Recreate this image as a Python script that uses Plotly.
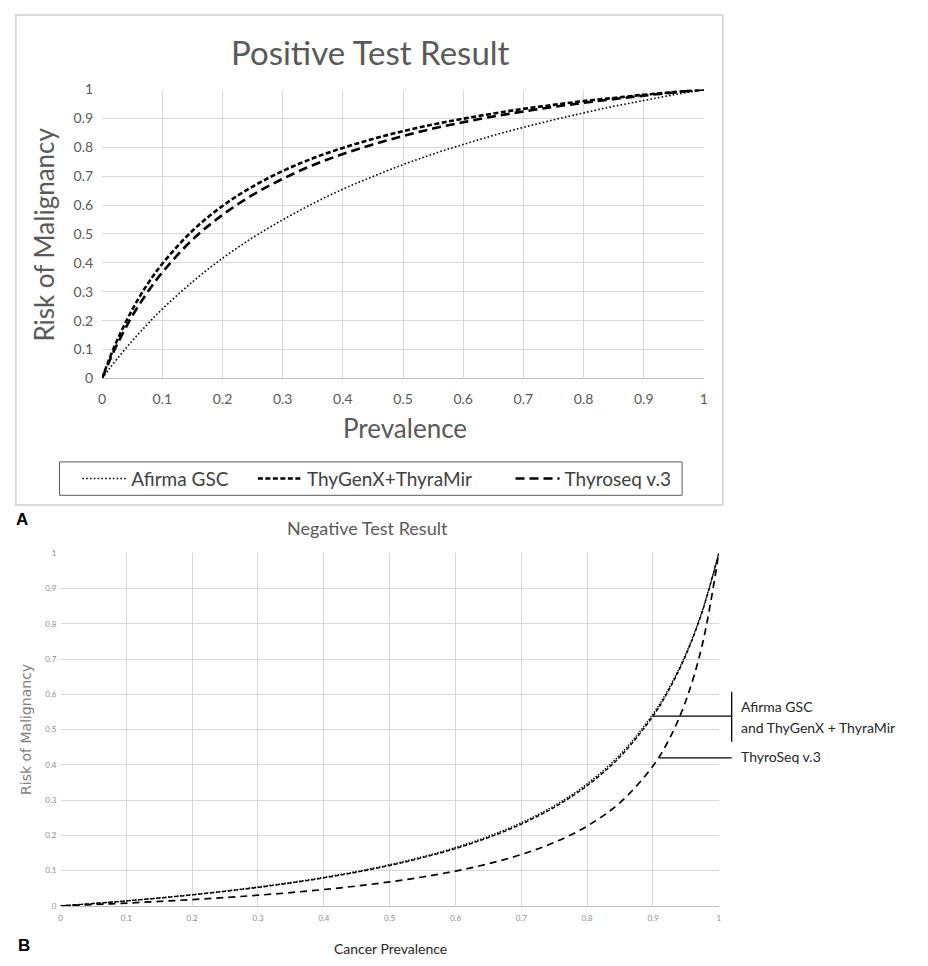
import plotly.graph_objects as go

W, H = 928, 966

# ---------- data ----------
pos_prev = [0, 0.01, 0.025, 0.05, 0.075, 0.1, 0.15, 0.2, 0.25, 0.3, 0.35, 0.4, 0.45,
            0.5, 0.55, 0.6, 0.65, 0.7, 0.75, 0.8, 0.85, 0.9, 0.95, 1]
pos_afirma = [0, 0.028, 0.068, 0.130, 0.187, 0.240, 0.334, 0.416, 0.487, 0.549, 0.605, 0.655,
              0.699, 0.740, 0.777, 0.810, 0.841, 0.869, 0.895, 0.919, 0.942, 0.962, 0.982, 1]
pos_thygenx = [0, 0.057, 0.132, 0.238, 0.325, 0.397, 0.511, 0.597, 0.664, 0.718, 0.762, 0.798,
               0.829, 0.856, 0.879, 0.899, 0.917, 0.933, 0.947, 0.960, 0.971, 0.982, 0.991, 1]
pos_thyroseq = [0, 0.050, 0.118, 0.216, 0.297, 0.367, 0.480, 0.566, 0.635, 0.691, 0.738, 0.777,
                0.810, 0.839, 0.865, 0.887, 0.907, 0.924, 0.940, 0.954, 0.967, 0.979, 0.990, 1]

neg_prev = [0, 0.05, 0.1, 0.15, 0.2, 0.25, 0.3, 0.35, 0.4, 0.45, 0.5, 0.55, 0.6, 0.65,
            0.7, 0.75, 0.8, 0.85, 0.9, 0.925, 0.95, 0.975, 1]
neg_afirma = [0, 0.0069, 0.0145, 0.0228, 0.0320, 0.0423, 0.0537, 0.0665, 0.0811, 0.0977, 0.1169,
              0.1392, 0.1656, 0.1973, 0.236, 0.284, 0.346, 0.429, 0.544, 0.620, 0.715, 0.838, 1]
neg_thygenx = [0, 0.0068, 0.0142, 0.0223, 0.0313, 0.0414, 0.0525, 0.0651, 0.0794, 0.0957, 0.1146,
               0.1366, 0.1626, 0.1938, 0.2319, 0.2797, 0.341, 0.423, 0.538, 0.615, 0.711, 0.835, 1]
neg_thyroseq = [0, 0.0038, 0.0081, 0.0127, 0.0180, 0.0238, 0.0304, 0.0379, 0.0465, 0.0565, 0.0682,
                0.0821, 0.0989, 0.1196, 0.1458, 0.18, 0.2264, 0.293, 0.397, 0.474, 0.582, 0.741, 1]

tick_vals = [0, 0.1, 0.2, 0.3, 0.4, 0.5, 0.6, 0.7, 0.8, 0.9, 1]
tick_text = ["0", "0.1", "0.2", "0.3", "0.4", "0.5", "0.6", "0.7", "0.8", "0.9", "1"]

legend_names = ["Afirma GSC", "ThyGenX+ThyraMir", "Thyroseq v.3"]

# annotation anchor points on the negative-result curves
label_pts = [(0.9, 0.538), (0.91, 0.42)]


def px(x):
    return x / W


def py(y):
    return 1 - y / H


FONT = "Lato, Calibri, Arial, sans-serif"
GRID = "#d9d9d9"
NB = "\u00a0"

fig = go.Figure()

# ---------- top panel ----------
fig.add_trace(go.Scatter(x=pos_prev, y=pos_afirma, mode="lines", name=legend_names[0] + NB * 4,
                         line=dict(color="black", width=1.6, dash="1.6px,2.2px", shape="spline"),
                         xaxis="x", yaxis="y"))
fig.add_trace(go.Scatter(x=pos_prev, y=pos_thygenx, mode="lines", name=legend_names[1] + NB * 7,
                         line=dict(color="black", width=2.6, dash="5px,2.5px", shape="spline"),
                         xaxis="x", yaxis="y"))
fig.add_trace(go.Scatter(x=pos_prev, y=pos_thyroseq, mode="lines", name=legend_names[2],
                         line=dict(color="black", width=2.6, dash="9px,5px", shape="spline"),
                         xaxis="x", yaxis="y"))

# ---------- bottom panel ----------
fig.add_trace(go.Scatter(x=neg_prev, y=neg_afirma, mode="lines", name="Afirma GSC",
                         line=dict(color="black", width=1.4, dash="1.5px,1.5px", shape="spline"),
                         xaxis="x2", yaxis="y2", showlegend=False))
fig.add_trace(go.Scatter(x=neg_prev, y=neg_thygenx, mode="lines", name="ThyGenX + ThyraMir",
                         line=dict(color="black", width=1.4, dash="4px,2px", shape="spline"),
                         xaxis="x2", yaxis="y2", showlegend=False))
fig.add_trace(go.Scatter(x=neg_prev, y=neg_thyroseq, mode="lines", name="ThyroSeq v.3",
                         line=dict(color="black", width=1.7, dash="7px,5px", shape="spline"),
                         xaxis="x2", yaxis="y2", showlegend=False))

axis_common = dict(range=[0, 1], tickvals=tick_vals, ticktext=tick_text, showgrid=True,
                   gridcolor=GRID, gridwidth=1, zeroline=False, fixedrange=True, ticks="")

fig.update_layout(
    width=W, height=H,
    margin=dict(l=0, r=0, t=0, b=0),
    paper_bgcolor="white", plot_bgcolor="white",
    xaxis=dict(domain=[px(99), px(706)], anchor="y", showline=True, linecolor="#bfbfbf",
               ticklabelstandoff=8,
               tickfont=dict(family=FONT, size=14, color="#595959"), **axis_common),
    yaxis=dict(domain=[py(376), py(82)], anchor="x", ticklabelstandoff=8,
               tickfont=dict(family=FONT, size=14, color="#595959"), **axis_common),
    xaxis2=dict(domain=[px(57), px(721)], anchor="y2", showline=True, linecolor="#bfbfbf",
                ticklabelstandoff=4,
                tickfont=dict(family=FONT, size=8, color="#8c8c8c"), **axis_common),
    yaxis2=dict(domain=[py(913), py(554)], anchor="x2", ticklabelstandoff=3,
                tickfont=dict(family=FONT, size=8, color="#8c8c8c"), **axis_common),
    legend=dict(orientation="h", x=px(74), xanchor="left", y=py(478), yanchor="middle",
                borderwidth=0, bgcolor="rgba(0,0,0,0)", itemwidth=44,
                font=dict(family=FONT, size=19, color="#404040")),
    showlegend=True,
)

# outer frame of panel A
fig.add_shape(type="rect", xref="paper", yref="paper", x0=px(12), x1=px(725), y0=py(505), y1=py(6),
              line=dict(color="#d0d0d0", width=1.5))
# legend frame
fig.add_shape(type="rect", xref="paper", yref="paper", x0=px(56), x1=px(684), y0=py(495), y1=py(461),
              line=dict(color="#595959", width=1))

ann = []
ann.append(dict(text="Positive Test Result", x=px(370), y=py(44), font=dict(family=FONT, size=33, color="#595959")))
ann.append(dict(text="Prevalence", x=px(404), y=py(427), font=dict(family=FONT, size=26, color="#595959")))
ann.append(dict(text="Risk of Malignancy", x=px(40), y=py(230), textangle=-90,
                font=dict(family=FONT, size=26, color="#595959")))
ann.append(dict(text="<b>A</b>", x=px(18), y=py(520), font=dict(family="Arial", size=17, color="black")))
ann.append(dict(text="<b>B</b>", x=px(20), y=py(953), font=dict(family="Arial", size=17, color="black")))
ann.append(dict(text="Negative Test Result", x=px(367), y=py(528), font=dict(family=FONT, size=18, color="#595959")))
ann.append(dict(text="Cancer Prevalence", x=px(390), y=py(956), font=dict(family=FONT, size=14, color="#262626")))
ann.append(dict(text="Risk of Malignancy", x=px(22), y=py(733), textangle=-90,
                font=dict(family="DejaVu Sans", size=14, color="#7f7f7f")))
ann.append(dict(text="Afirma GSC", x=px(741), y=py(710), xanchor="left",
                font=dict(family=FONT, size=14, color="#262626")))
ann.append(dict(text="and ThyGenX + ThyraMir", x=px(741), y=py(731), xanchor="left",
                font=dict(family=FONT, size=14, color="#262626")))
ann.append(dict(text="ThyroSeq v.3", x=px(741), y=py(761), xanchor="left",
                font=dict(family=FONT, size=14, color="#262626")))
for a in ann:
    a.setdefault("xanchor", "center")
    a.update(xref="paper", yref="paper", yanchor="middle", showarrow=False)
    fig.add_annotation(**a)

# leader lines for panel B labels (start at the curve points, in plot pixels)
x0p, x1p = 57, 721
y0p, y1p = 913, 554


def to_px(xv, yv):
    return x0p + xv * (x1p - x0p), y0p - yv * (y0p - y1p)


(ax, ay) = to_px(*label_pts[0])
(bx, by) = to_px(*label_pts[1])
bar_x = 734
fig.add_shape(type="line", xref="paper", yref="paper", x0=px(ax), x1=px(bar_x), y0=py(ay), y1=py(ay),
              line=dict(color="black", width=1.3))
fig.add_shape(type="line", xref="paper", yref="paper", x0=px(bar_x), x1=px(bar_x), y0=py(695), y1=py(746),
              line=dict(color="black", width=1.3))
fig.add_shape(type="line", xref="paper", yref="paper", x0=px(bx), x1=px(bar_x), y0=py(by), y1=py(by),
              line=dict(color="black", width=1.3))

fig.write_html("out.html", config={"displayModeBar": False},
               post_script="document.body.style.margin='0';document.body.style.overflow='hidden';")
